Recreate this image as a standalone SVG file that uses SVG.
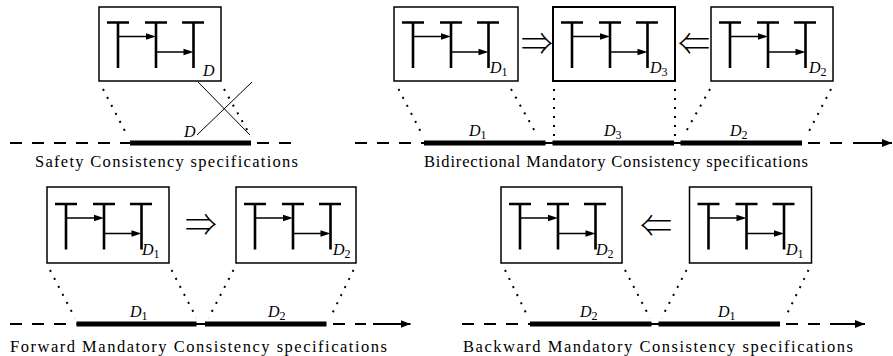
<svg xmlns="http://www.w3.org/2000/svg" xmlns:xlink="http://www.w3.org/1999/xlink" width="893" height="356" viewBox="0 0 893 356">
  <style>
    .box { fill: #fff; stroke: #000; stroke-width: 1.5; }
    .bar { fill: none; stroke: #000; stroke-width: 2.6; }
    .shaft { fill: none; stroke: #000; stroke-width: 1.4; }
    .head { fill: #000; stroke: none; }
    .dash { fill: none; stroke: #000; stroke-width: 2; stroke-dasharray: 12 10; }
    .thin { fill: none; stroke: #000; stroke-width: 2; }
    .seg { fill: none; stroke: #000; stroke-width: 5; }
    .dot { fill: none; stroke: #000; stroke-width: 2; stroke-dasharray: 2 7; }
    .cross { fill: none; stroke: #000; stroke-width: 1; }
    .lbl { font-family: "Liberation Serif", serif; font-style: italic; font-size: 16px; }
    .sub { font-style: normal; font-size: 12px; }
    .cap { font-family: "Liberation Serif", serif; font-size: 16.5px; }
    .imp { font-family: "Noto Sans CJK JP", "DejaVu Sans", sans-serif; font-weight: 300; font-size: 32px; }
  </style>
  <defs>
    <!-- three process lines with two messages, drawn relative to the box corner -->
    <g id="rule">
      <path class="bar" d="M8,15.5 H30 M46,15.5 H68 M83,15.5 H105 M19,15 V61 M57,15 V61 M94.5,15 V61"/>
      <path class="shaft" d="M19,29.5 H49 M57,45 H86.5"/>
      <path class="head" d="M57,29.5 L47,26.3 L47,32.7 Z M94.5,45 L84.5,41.8 L84.5,48.2 Z"/>
    </g>
    <marker id="tip" markerUnits="userSpaceOnUse" markerWidth="11" markerHeight="9" refX="10" refY="4" orient="auto">
      <path d="M0,0 L10,4 L0,8 Z" fill="#000"/>
    </marker>
  </defs>

  <!-- Safety -->
  <g id="safety-box">
    <rect class="box" x="99" y="7" width="122" height="74"/>
    <use xlink:href="#rule" href="#rule" x="99" y="7"/>
    <text class="lbl" x="203" y="76">D</text>
  </g>

  <!-- Bidirectional -->
  <g id="bidi-d1">
    <rect class="box" x="394" y="7" width="124" height="74"/>
    <use xlink:href="#rule" href="#rule" x="394" y="7"/>
    <text class="lbl" x="490" y="73">D<tspan class="sub" dy="2.5">1</tspan></text>
  </g>
  <g id="bidi-d3">
    <rect class="box" x="553" y="7" width="122" height="74" style="stroke-width:2"/>
    <use xlink:href="#rule" href="#rule" x="553" y="7"/>
    <text class="lbl" x="650" y="73">D<tspan class="sub" dy="2.5">3</tspan></text>
  </g>
  <g id="bidi-d2">
    <rect class="box" x="711" y="7" width="122" height="74"/>
    <use xlink:href="#rule" href="#rule" x="711" y="7"/>
    <text class="lbl" x="809" y="73">D<tspan class="sub" dy="2.5">2</tspan></text>
  </g>

  <!-- Forward -->
  <g id="fwd-d1">
    <rect class="box" x="47" y="187" width="122" height="76"/>
    <use xlink:href="#rule" href="#rule" x="47" y="188.5"/>
    <text class="lbl" x="142" y="255">D<tspan class="sub" dy="2.5">1</tspan></text>
  </g>
  <g id="fwd-d2">
    <rect class="box" x="236" y="187" width="120" height="76"/>
    <use xlink:href="#rule" href="#rule" x="236" y="188.5"/>
    <text class="lbl" x="333" y="255">D<tspan class="sub" dy="2.5">2</tspan></text>
  </g>

  <!-- Backward -->
  <g id="bwd-d2">
    <rect class="box" x="501" y="187" width="121" height="76"/>
    <use xlink:href="#rule" href="#rule" x="501" y="188.5"/>
    <text class="lbl" x="596" y="255">D<tspan class="sub" dy="2.5">2</tspan></text>
  </g>
  <g id="bwd-d1">
    <rect class="box" x="689.5" y="187" width="122" height="76"/>
    <use xlink:href="#rule" href="#rule" x="689.5" y="188.5"/>
    <text class="lbl" x="786" y="255">D<tspan class="sub" dy="2.5">1</tspan></text>
  </g>

  <g id="connectors">
    <!-- Safety: projection and the crossed-out one -->
    <path class="dot" d="M103,89 L127,135"/>
    <path class="dot" d="M224,89 L250,135"/>
    <path class="cross" d="M198,82 L250,135 M197,135 L252,82"/>
    <!-- Bidirectional -->
    <path class="dot" d="M398.5,89 L422.5,135"/>
    <path class="dot" d="M511,89 L537,135"/>
    <path class="dot" d="M554,89 L554,136"/>
    <path class="dot" d="M675,89 L675,136"/>
    <path class="dot" d="M710,89 L684,135"/>
    <path class="dot" d="M831,89 L807,135"/>
    <!-- Forward -->
    <path class="dot" d="M50,270 L75,318"/>
    <path class="dot" d="M171.5,270 L196.5,318"/>
    <path class="dot" d="M233.5,270 L208.5,318"/>
    <path class="dot" d="M353.5,270 L330,318"/>
    <!-- Backward -->
    <path class="dot" d="M505,270 L528.5,318"/>
    <path class="dot" d="M625,270 L650,318"/>
    <path class="dot" d="M686.5,270 L661.5,318"/>
    <path class="dot" d="M808.5,270 L785,318"/>
    <!-- implication symbols between boxes -->
    <text class="imp" x="537" y="55" text-anchor="middle">⇒</text>
    <text class="imp" x="694" y="55" text-anchor="middle">⇐</text>
    <text class="imp" x="201" y="236" text-anchor="middle">⇒</text>
    <text class="imp" x="656" y="237" text-anchor="middle">⇐</text>
  </g>

  <g id="timelines">
    <!-- Safety -->
    <path class="dash" d="M10,143 H130"/>
    <path class="seg" d="M130,143 H251"/>
    <path class="dash" d="M257,143 H293"/>
    <text class="lbl" x="184" y="137">D</text>
    <!-- Bidirectional -->
    <path class="dash" d="M355,143 H424"/>
    <path class="seg" d="M424,143 H545.5"/>
    <path class="thin" d="M545,143 H553"/>
    <path class="seg" d="M552.5,143 H674"/>
    <path class="thin" d="M673,143 H681"/>
    <path class="seg" d="M680.5,143 H802"/>
    <path class="dash" d="M808,143 H850"/>
    <path class="thin" d="M853,143 H892" marker-end="url(#tip)"/>
    <text class="lbl" x="469" y="136">D<tspan class="sub" dy="2.5">1</tspan></text>
    <text class="lbl" x="604" y="136">D<tspan class="sub" dy="2.5">3</tspan></text>
    <text class="lbl" x="730" y="136">D<tspan class="sub" dy="2.5">2</tspan></text>
    <!-- Forward -->
    <path class="dash" d="M10,324 H76.5"/>
    <path class="seg" d="M76.5,324 H196.5"/>
    <path class="thin" d="M196,324 H205.5"/>
    <path class="seg" d="M205,324 H326.5"/>
    <path class="dash" d="M333,324 H366"/>
    <path class="thin" d="M373,324 H410.5" marker-end="url(#tip)"/>
    <text class="lbl" x="130" y="317">D<tspan class="sub" dy="2.5">1</tspan></text>
    <text class="lbl" x="268" y="317">D<tspan class="sub" dy="2.5">2</tspan></text>
    <!-- Backward -->
    <path class="dash" d="M462,324 H530"/>
    <path class="seg" d="M530,324 H651.5"/>
    <path class="thin" d="M651,324 H659"/>
    <path class="seg" d="M658.5,324 H780"/>
    <path class="dash" d="M786,324 H825"/>
    <path class="thin" d="M830,324 H865" marker-end="url(#tip)"/>
    <text class="lbl" x="580" y="317">D<tspan class="sub" dy="2.5">2</tspan></text>
    <text class="lbl" x="718" y="317">D<tspan class="sub" dy="2.5">1</tspan></text>
  </g>

  <g id="captions">
    <text class="cap" x="35" y="167" textLength="263" lengthAdjust="spacing">Safety Consistency specifications</text>
    <text class="cap" x="424" y="167" textLength="384" lengthAdjust="spacing">Bidirectional Mandatory Consistency specifications</text>
    <text class="cap" x="10" y="352" textLength="377" lengthAdjust="spacing">Forward Mandatory Consistency specifications</text>
    <text class="cap" x="463" y="352" textLength="390" lengthAdjust="spacing">Backward Mandatory Consistency specifications</text>
  </g>
</svg>
